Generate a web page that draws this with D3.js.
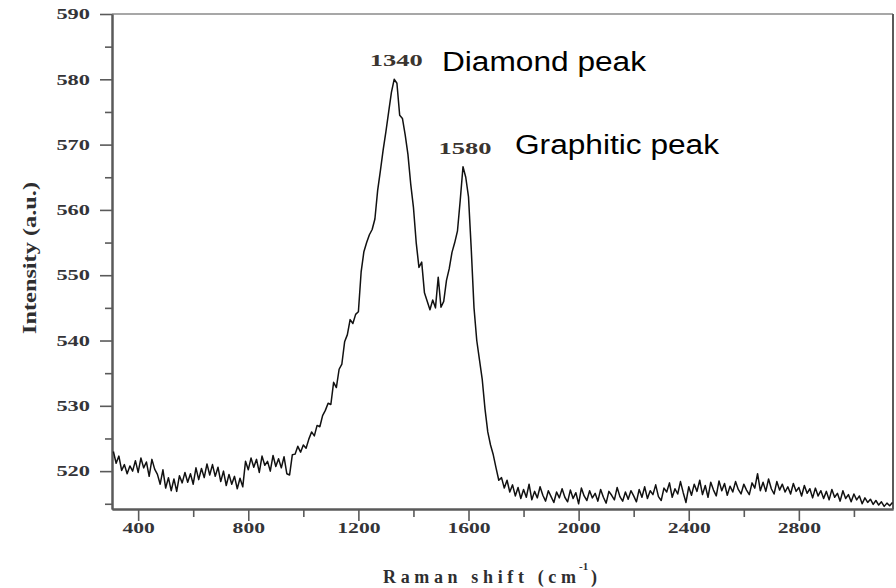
<!DOCTYPE html>
<html><head><meta charset="utf-8">
<script src="https://cdn.jsdelivr.net/npm/d3@7/dist/d3.min.js"></script>
<style>body{margin:0;background:#fff;overflow:hidden}</style>
</head><body><svg id="c" width="896" height="588"></svg>
<script>
// ---- data ----
const ramanShift = [
  310,320,330,340,350,360,370,380,390,
  400,410,420,430,440,450,460,470,480,490,
  500,510,520,530,540,550,560,570,580,590,
  600,610,620,630,640,650,660,670,680,690,
  700,710,720,730,740,750,760,770,780,790,
  800,810,820,830,840,850,860,870,880,890,
  900,910,920,930,940,950,960,970,980,990,
  1000,1010,1020,1030,1040,1050,1060,1070,1080,1090,
  1100,1110,1120,1130,1140,1150,1160,1170,1180,1190,
  1200,1210,1220,1230,1240,1250,1260,1270,1280,1290,
  1300,1310,1320,1330,1340,1350,1360,1370,1380,1390,
  1400,1410,1420,1430,1440,1450,1460,1470,1480,1490,
  1500,1510,1520,1530,1540,1550,1560,1570,1580,1590,
  1600,1610,1620,1630,1640,1650,1660,1670,1680,1690,
  1700,1710,1720,1730,1740,1750,1760,1770,1780,1790,
  1800,1810,1820,1830,1840,1850,1860,1870,1880,1890,
  1900,1910,1920,1930,1940,1950,1960,1970,1980,1990,
  2000,2010,2020,2030,2040,2050,2060,2070,2080,2090,
  2100,2110,2120,2130,2140,2150,2160,2170,2180,2190,
  2200,2210,2220,2230,2240,2250,2260,2270,2280,2290,
  2300,2310,2320,2330,2340,2350,2360,2370,2380,2390,
  2400,2410,2420,2430,2440,2450,2460,2470,2480,2490,
  2500,2510,2520,2530,2540,2550,2560,2570,2580,2590,
  2600,2610,2620,2630,2640,2650,2660,2670,2680,2690,
  2700,2710,2720,2730,2740,2750,2760,2770,2780,2790,
  2800,2810,2820,2830,2840,2850,2860,2870,2880,2890,
  2900,2910,2920,2930,2940,2950,2960,2970,2980,2990,
  3000,3010,3020,3030,3040,3050,3060,3070,3080,3090,
  3100,3110,3120,3130,3140
];
const intensity = [
  523.0,521.2,522.3,520.1,521.0,519.6,520.8,520.0,521.6,
  519.8,522.0,520.5,521.4,519.2,521.8,520.3,519.5,518.0,520.2,
  517.4,519.0,517.0,518.8,516.9,519.3,518.2,519.8,518.3,519.6,
  518.0,520.5,518.7,520.4,519.0,521.1,519.4,521.0,519.2,520.6,
  518.4,520.0,517.8,519.5,518.0,519.2,517.3,518.9,517.6,521.5,
  520.2,522.0,520.6,521.8,519.8,522.3,520.9,521.5,520.0,522.4,
  520.7,521.9,520.5,522.2,519.6,519.4,522.5,522.6,523.8,522.9,
  524.0,523.5,524.9,526.0,525.4,527.0,526.8,528.5,529.3,530.4,
  530.2,533.6,532.8,535.6,536.4,539.8,540.9,543.2,542.6,544.0,
  544.4,550.5,553.6,555.0,556.2,557.0,558.6,563.0,566.0,569.2,
  572.0,575.0,578.0,580.0,579.4,574.5,574.0,571.5,568.5,564.0,
  560.4,555.0,551.2,552.0,547.3,546.0,544.7,546.2,545.0,549.7,
  545.1,546.0,549.2,551.0,553.5,555.0,556.8,561.5,566.6,565.0,
  562.0,554.0,545.0,540.0,537.0,534.0,529.5,526.0,524.0,522.5,
  520.5,518.6,519.0,517.4,518.6,516.8,517.9,516.2,517.5,515.8,
  517.2,516.0,518.0,515.6,516.9,515.9,517.6,516.3,515.4,517.0,
  516.1,515.2,516.8,515.9,517.3,516.0,515.3,517.1,515.8,516.7,
  515.0,517.4,516.2,515.5,517.0,515.9,516.6,515.4,517.2,516.0,
  515.1,516.9,516.3,515.6,517.5,516.1,515.4,516.8,515.7,517.0,
  516.2,515.3,517.2,516.0,517.6,515.8,517.0,516.4,517.9,516.1,
  515.5,517.4,516.8,518.2,516.0,517.3,516.5,518.4,516.7,515.2,
  517.6,516.3,518.0,516.9,518.6,516.4,517.8,516.0,518.3,517.1,
  516.2,518.5,517.0,518.1,516.3,517.7,516.8,518.4,517.2,516.5,
  518.0,517.1,516.4,518.2,517.4,519.6,517.0,518.3,516.9,518.8,
  517.3,516.5,518.4,517.1,518.0,516.8,517.6,516.5,518.1,516.9,
  517.5,516.2,517.8,516.6,517.3,515.9,517.4,516.2,517.0,515.8,
  516.9,515.6,517.2,516.0,516.6,515.4,517.0,515.8,516.4,515.3,
  516.5,515.6,516.2,515.0,515.9,515.2,515.7,514.9,515.5,514.8,
  515.3,514.6,515.1,514.7,515.2
];
const yMajorTicks = [520,530,540,550,560,570,580,590];
const yMinorTicks = [515,525,535,545,555,565,575,585];
const xMajorTicks = [400,800,1200,1600,2000,2400,2800];
const xMinorTicks = [600,1000,1400,1800,2200,2600,3000];
const peakShifts = [1330,1580];
const peakLabels = ["1340","1580"];
const peakNames = ["Diamond peak","Graphitic peak"];
const xTitle = "Raman shift (cm";
const yTitle = "Intensity (a.u.)";

// ---- layout ----
const L = 112, R = 893, T = 14, B = 509;
const x = d3.scaleLinear().domain([305, 3142]).range([L, R]);
const y = d3.scaleLinear().domain([514.2, 590]).range([B, T]);
const svg = d3.select("#c");
const axisColor = "#5a5a5a";
const serif = "'Liberation Serif','Times New Roman',serif";
const labelColor = "#343438";

// frame (top and right)
svg.append("line").attr("x1", L).attr("x2", R).attr("y1", T).attr("y2", T)
  .attr("stroke", "#8a8a8a").attr("stroke-width", 1.6);
svg.append("line").attr("x1", R).attr("x2", R).attr("y1", T).attr("y2", B)
  .attr("stroke", axisColor).attr("stroke-width", 2);

// y axis
const gyMinor = svg.append("g").attr("transform", `translate(${L},0)`)
  .call(d3.axisLeft(y).tickValues(yMinorTicks).tickSize(7).tickSizeOuter(0).tickFormat(""));
const gy = svg.append("g").attr("transform", `translate(${L},0)`)
  .call(d3.axisLeft(y).tickValues(yMajorTicks).tickSize(12).tickSizeOuter(0).tickPadding(10).tickFormat(d3.format("d")));
// x axis
const gxMinor = svg.append("g").attr("transform", `translate(0,${B})`)
  .call(d3.axisBottom(x).tickValues(xMinorTicks).tickSize(8).tickSizeOuter(0).tickFormat(""));
const gx = svg.append("g").attr("transform", `translate(0,${B})`)
  .call(d3.axisBottom(x).tickValues(xMajorTicks).tickSize(12).tickSizeOuter(0).tickPadding(10).tickFormat(d3.format("d")));

[gyMinor, gy, gxMinor, gx].forEach(g => {
  g.selectAll(".domain").attr("stroke", axisColor).attr("stroke-width", 2);
  g.selectAll(".tick line").attr("stroke", axisColor).attr("stroke-width", 1.6);
});
gy.selectAll(".tick text")
  .attr("x", -22).attr("dy", "0.34em")
  .attr("font-family", serif).attr("font-weight", "bold").attr("font-size", 14)
  .attr("fill", labelColor)
  .attr("textLength", d => String(d).length * 11.2).attr("lengthAdjust", "spacingAndGlyphs");
gx.selectAll(".tick text")
  .attr("y", 24).attr("dy", 0)
  .attr("font-family", serif).attr("font-weight", "bold").attr("font-size", 14)
  .attr("fill", labelColor)
  .attr("textLength", d => String(d).length * 10.8).attr("lengthAdjust", "spacingAndGlyphs");

// spectrum
const pts = ramanShift.map((s, i) => [s, intensity[i]]);
svg.append("path").datum(pts)
  .attr("fill", "none").attr("stroke", "#111").attr("stroke-width", 1.5)
  .attr("stroke-linejoin", "round")
  .attr("d", d3.line().x(d => x(d[0])).y(d => y(d[1])));

// peak labels
peakShifts.forEach((s, i) => {
  const v = intensity[ramanShift.indexOf(s)];
  const px = x(s) + 2, py = y(v) - 13;
  svg.append("text").attr("x", px).attr("y", py).attr("text-anchor", "middle")
    .attr("font-family", serif).attr("font-weight", "bold").attr("font-size", 16)
    .attr("fill", "#3b3530")
    .attr("textLength", 53).attr("lengthAdjust", "spacingAndGlyphs")
    .text(peakLabels[i]);
});
const nameAnchors = [[442, 71], [515, 154]];
peakNames.forEach((n, i) => {
  svg.append("text").attr("x", nameAnchors[i][0]).attr("y", nameAnchors[i][1])
    .attr("font-family", "'Liberation Sans',Arial,sans-serif").attr("font-size", 27)
    .attr("fill", "#000")
    .attr("textLength", 204).attr("lengthAdjust", "spacingAndGlyphs")
    .text(n);
});

// axis titles
const xt = svg.append("text").attr("x", 383).attr("y", 583)
  .attr("font-family", serif).attr("font-weight", "bold").attr("font-size", 18)
  .attr("fill", "#2e2e30")
  .attr("textLength", 193).attr("lengthAdjust", "spacing")
  .text(xTitle);
svg.append("text").attr("x", 579).attr("y", 570)
  .attr("font-family", serif).attr("font-weight", "bold").attr("font-size", 11)
  .attr("fill", "#2e2e30").text("-1");
svg.append("text").attr("x", 591).attr("y", 583)
  .attr("font-family", serif).attr("font-weight", "bold").attr("font-size", 18)
  .attr("fill", "#2e2e30").text(")");
svg.append("text")
  .attr("transform", "translate(36,258) rotate(-90)")
  .attr("text-anchor", "middle")
  .attr("font-family", serif).attr("font-weight", "bold").attr("font-size", 18)
  .attr("fill", "#2e2e30")
  .attr("textLength", 152).attr("lengthAdjust", "spacingAndGlyphs")
  .text(yTitle);
</script></body></html>
